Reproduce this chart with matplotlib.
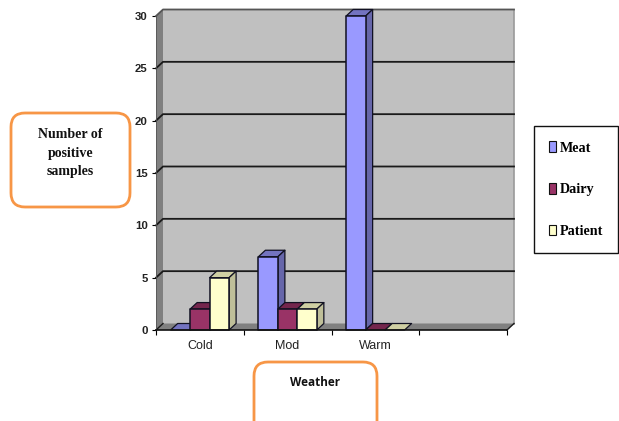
import matplotlib
matplotlib.use('Agg')
import matplotlib.pyplot as plt
from matplotlib.patches import Polygon, Patch, FancyBboxPatch

categories = ['Cold', 'Mod', 'Warm', '']
series_names = ['Meat', 'Dairy', 'Patient']
meat = [0, 7, 30]
dairy = [2, 2, 0]
patient = [5, 2, 0]
y_ticks = [0, 5, 10, 15, 20, 25, 30]

face_colors = ['#9999FF', '#993366', '#FFFFCC']
side_colors = ['#6666AA', '#662244', '#BFBF99']
top_colors = ['#7373C0', '#74264D', '#CFCFA3']
ORANGE = '#F79646'
SERIF = 'Liberation Serif'
SANS = 'Liberation Sans'

W, H = 619, 421
fig = plt.figure(figsize=(W / 100, H / 100), dpi=100, facecolor='white')
ax = fig.add_axes([156 / W, 1 - 330 / H, 351 / W, 314 / H])
ax.set_xlim(0, 4)
ax.set_ylim(0, 30)

# depth of the fake 3d box, in data units
dx = 7 * 4 / 351
dy = 6.5 * 30 / 314
bar_w = 0.222
group_left = 0.5 - 1.5 * bar_w


def poly(pts, fc, ec='none', lw=0, z=1):
    ax.add_patch(Polygon(pts, closed=True, fc=fc, ec=ec, lw=lw, zorder=z,
                         clip_on=False, joinstyle='round'))


# walls and floor
poly([(dx, dy), (4 + dx, dy), (4 + dx, 30 + dy), (dx, 30 + dy)], '#C0C0C0')
poly([(0, 0), (dx, dy), (dx, 30 + dy), (0, 30)], '#808080')
poly([(0, 0), (4, 0), (4 + dx, dy), (dx, dy)], '#808080')
ax.plot([4 + dx, 4 + dx], [dy, 30 + dy], color='#9A9A9A', lw=1.2, zorder=1.5, clip_on=False)

for t in y_ticks[1:]:
    c = '#555555' if t == 30 else '#1A1A1A'
    ax.plot([0, dx, 4 + dx], [t, t + dy, t + dy], color=c, lw=1.3, zorder=2, clip_on=False)
ax.plot([0, dx], [0, dy], color='#1A1A1A', lw=1, zorder=2, clip_on=False)
ax.plot([4, 4 + dx], [0, dy], color='#1A1A1A', lw=1, zorder=2, clip_on=False)

# bars, painted left to right so each one hides the side of the one before
edge = '#111122'
for j, vals in enumerate([meat, dairy, patient]):
    for i, v in enumerate(vals):
        x0 = i + group_left + j * bar_w
        x1 = x0 + bar_w
        z = 3 + i + 0.2 * j
        poly([(x0, v), (x1, v), (x1 + dx, v + dy), (x0 + dx, v + dy)], top_colors[j], edge, 0.9, z)
        if v > 0:
            poly([(x1, 0), (x1 + dx, dy), (x1 + dx, v + dy), (x1, v)], side_colors[j], edge, 0.9, z)
            poly([(x0, 0), (x1, 0), (x1, v), (x0, v)], face_colors[j], edge, 1.1, z + 0.05)

for s in ['top', 'right']:
    ax.spines[s].set_visible(False)
ax.spines['left'].set_color('#555555')
ax.spines['left'].set_linewidth(0.6)
ax.spines['bottom'].set_color('#111111')
ax.spines['bottom'].set_linewidth(1.2)
ax.spines['bottom'].set_zorder(20)
ax.patch.set_visible(False)

ax.set_yticks(y_ticks)
ax.set_yticklabels([str(t) for t in y_ticks], family=SANS, fontsize=8.2, fontweight='bold', color='#222222')
ax.set_xticks(range(5))
ax.set_xticklabels([])
ax.set_xticks([i + 0.5 for i in range(4)], labels=categories, minor=True,
              family=SANS, fontsize=9, color='#222222')
ax.tick_params(axis='x', which='major', length=3.5, direction='out', width=0.8)
ax.tick_params(axis='x', which='minor', length=0, pad=7)
ax.tick_params(axis='y', length=3, width=0.8, pad=3)

# legend
handles = [Patch(fc=c, ec='#111111', lw=0.8) for c in face_colors]
fig.legend(handles, series_names, loc='upper left', bbox_to_anchor=(534 / W, 1 - 126 / H),
           bbox_transform=fig.transFigure, borderaxespad=0, fancybox=False, framealpha=1,
           edgecolor='#111111', handlelength=0.5, handleheight=0.8, handletextpad=0.22,
           labelspacing=2.0, borderpad=1.07,
           prop={'family': SERIF, 'weight': 'bold', 'size': 10.2})


# rounded text boxes
def text_box(x0, y0, x1, y1, lines, ty, family, size, spacing=1.2):
    fig.add_artist(FancyBboxPatch((x0 + 12, H - y1 + 12), x1 - x0 - 24, y1 - y0 - 24,
                                  boxstyle='round,pad=12,rounding_size=14', fc='white', ec=ORANGE,
                                  lw=2.0, transform=None, zorder=5))
    fig.text((x0 + x1) / 2 / W, 1 - ty / H, lines, ha='center', va='center', family=family,
             fontweight='bold', fontsize=size, linespacing=spacing, color='#111111', zorder=6)


text_box(11, 113, 130, 207, 'Number of\npositive\nsamples', 153, SERIF, 10, 1.58)
text_box(254, 362, 377, 440, 'Weather', 382, 'Open Sans', 8.5)

fig.savefig('out.png', dpi=100)
